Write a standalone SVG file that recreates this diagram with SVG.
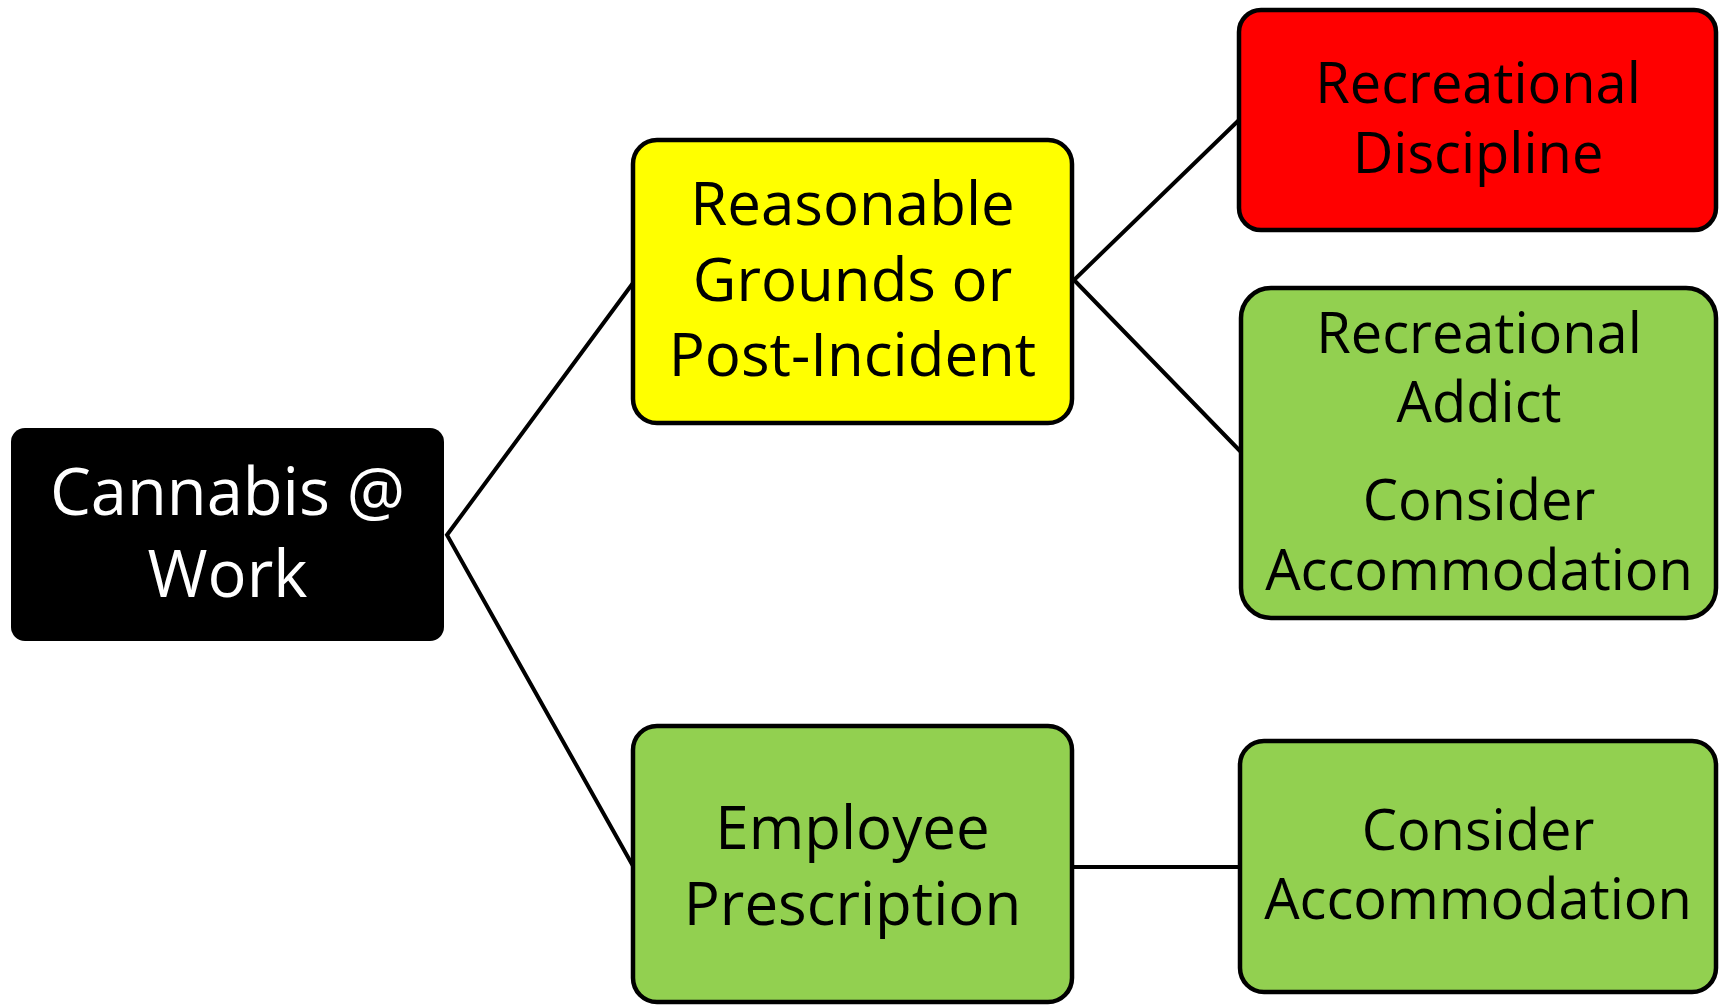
<svg xmlns="http://www.w3.org/2000/svg" width="1719" height="1005" viewBox="0 0 1719 1005">
  <style>
    .box { stroke: #000; stroke-width: 4.5; }
    .yellow { fill: #FFFF00; }
    .red { fill: #FF0000; }
    .green { fill: #92D050; }
    .root { fill: #000; }
    .label { font-family: "Open Sans", "Liberation Sans", sans-serif; text-anchor: middle; fill: #000; }
    .root-label { fill: #fff; }
    .link { stroke: #000; stroke-width: 4; fill: none; }
  </style>
  <rect width="1719" height="1005" fill="#fff"/>

  <!-- connectors -->
  <g id="connectors">
    <polyline class="link" points="633,283 447,535 633,866"/>
    <polyline class="link" points="1239,120 1074,280 1241,452"/>
    <line class="link" x1="1072" y1="867" x2="1241" y2="867"/>
  </g>

  <!-- root node -->
  <g id="node-cannabis">
    <rect class="root" x="11" y="428" width="433" height="213" rx="14"/>
    <text class="label root-label" font-size="65" x="227.5" y="515">Cannabis @</text>
    <text class="label root-label" font-size="65" x="227.5" y="597">Work</text>
  </g>

  <g id="node-reasonable">
    <rect class="box yellow" x="633" y="140" width="439" height="283" rx="24"/>
    <text class="label" font-size="60" x="852.5" y="225">Reasonable</text>
    <text class="label" font-size="60" x="852.5" y="301">Grounds or</text>
    <text class="label" font-size="60" x="852.5" y="376">Post-Incident</text>
  </g>

  <g id="node-prescription">
    <rect class="box green" x="633" y="726" width="439" height="276" rx="24"/>
    <text class="label" font-size="60" x="852.5" y="849">Employee</text>
    <text class="label" font-size="60" x="852.5" y="925">Prescription</text>
  </g>

  <g id="node-discipline">
    <rect class="box red" x="1239" y="10" width="477" height="220" rx="22"/>
    <text class="label" font-size="56" x="1478" y="103">Recreational</text>
    <text class="label" font-size="56" x="1478" y="173">Discipline</text>
  </g>

  <g id="node-addict">
    <rect class="box green" x="1241" y="288" width="475" height="330" rx="30"/>
    <text class="label" font-size="56" x="1479" y="353">Recreational</text>
    <text class="label" font-size="56" x="1479" y="422">Addict</text>
    <text class="label" font-size="56" x="1479" y="520">Consider</text>
    <text class="label" font-size="56" x="1479" y="590">Accommodation</text>
  </g>

  <g id="node-accommodation">
    <rect class="box green" x="1240" y="741" width="476" height="251" rx="24"/>
    <text class="label" font-size="56" x="1478" y="850">Consider</text>
    <text class="label" font-size="56" x="1478" y="919">Accommodation</text>
  </g>
</svg>
